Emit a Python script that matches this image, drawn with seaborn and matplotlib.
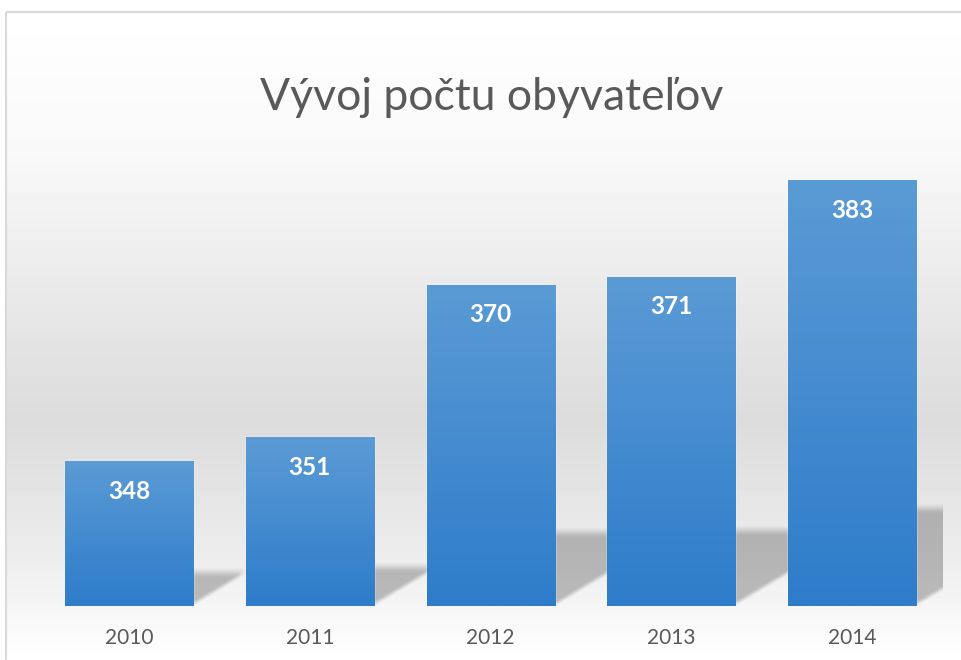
import matplotlib.pyplot as plt
import numpy as np
import pandas as pd
import seaborn as sns
from matplotlib.colors import LinearSegmentedColormap
from matplotlib.patches import Rectangle

# Data
years = ['2010', '2011', '2012', '2013', '2014']
population = [348, 351, 370, 371, 383]
chart_title = 'Vývoj počtu obyvateľov'

# Settings
Y_MIN, Y_MAX = 330, 390
TEXT_GREY = '#595959'
BAR_TOP = '#5b9bd5'
BAR_BOTTOM = '#2e7cca'
W, H = 962, 660
AX_RECT = [38.6 / W, 54 / H, 904 / W, 482 / H]

df = pd.DataFrame({'Year': years, 'Population': population})

sns.set_theme(style='white')
plt.rcParams['font.family'] = ['Lato', 'DejaVu Sans']

fig = plt.figure(figsize=(W / 100, H / 100), dpi=100)

# Background: white frame with a soft grey band in the middle
bg = fig.add_axes([0, 0, 1, 1], zorder=-10)
bg.set_axis_off()
rows = np.arange(H)
shade = np.interp(rows, [0, 12, 150, 420, 560, 660], [1.0, 1.0, 0.975, 0.86, 0.93, 1.0])
img = np.repeat(shade[:, None], W, axis=1)
img[:12, :] = 1.0
img[:, :6] = 1.0
bg.imshow(img, cmap='gray', vmin=0, vmax=1, aspect='auto', extent=[0, W, H, 0])
bg.add_patch(Rectangle((6, 12), W, H, fill=False, ec='#d9d9d9', lw=1.5))
bg.set_xlim(0, W)
bg.set_ylim(H, 0)

# Main chart
ax = fig.add_axes(AX_RECT)
ax.set_facecolor('none')
sns.barplot(data=df, x='Year', y='Population', ax=ax, width=0.708, color=BAR_TOP, zorder=3)
bars = list(ax.patches)

# gradient fill on the bars
bar_cmap = LinearSegmentedColormap.from_list('bar', [BAR_BOTTOM, BAR_TOP])
grad = np.linspace(0, 1, 256)[:, None]
for bar in bars:
    x0, w, h = bar.get_x(), bar.get_width(), bar.get_height()
    im = ax.imshow(grad, cmap=bar_cmap, extent=[x0, x0 + w, Y_MIN, h],
                   origin='lower', aspect='auto', zorder=4)
    im.set_clip_path(bar)

# soft perspective shadow to the right of each bar (worked out in pixels)
px_x = AX_RECT[2] * W / len(years)       # pixels per category
px_y = AX_RECT[3] * H / (Y_MAX - Y_MIN)  # pixels per unit


def soft(z, blur):
    s = np.clip(z / blur + 0.5, 0, 1)
    return s * s * (3 - 2 * s)


for bar in bars:
    x1 = bar.get_x() + bar.get_width()
    bar_px = (bar.get_height() - Y_MIN) * px_y
    top_px = 0.23 * bar_px
    right_px = 0.35 * bar_px
    wx = (right_px + 15) / px_x
    wy = (top_px + 15) / px_y
    xs = np.linspace(x1, x1 + wx, 90)
    ys = np.linspace(Y_MIN, Y_MIN + wy, 120)
    X, Y = np.meshgrid(xs, ys)
    dx = (X - x1) * px_x
    dy = (Y - Y_MIN) * px_y
    alpha = (0.24 * soft(dy - 0.6 * dx - 2, 7) * soft(top_px - dy, 12)
             * soft(right_px - dx, 14))
    rgba = np.zeros(X.shape + (4,))
    rgba[..., 3] = alpha
    ax.imshow(rgba, extent=[x1, x1 + wx, Y_MIN, Y_MIN + wy], origin='lower',
              aspect='auto', zorder=2, interpolation='bilinear')

# value labels
for bar, val in zip(bars, population):
    ax.annotate(str(val), (bar.get_x() + bar.get_width() / 2, val),
                xytext=(0, -21.6), textcoords='offset points', ha='center', va='center',
                color='white', fontsize=17.5, fontweight='bold', zorder=6)

ax.set_xlim(-0.5, len(years) - 0.5)
ax.set_ylim(Y_MIN, Y_MAX)
ax.set_xlabel('')
ax.set_ylabel('')
ax.set_yticks([])
ax.tick_params(axis='x', length=0, pad=16, labelsize=15, labelcolor=TEXT_GREY)
sns.despine(ax=ax, left=True, bottom=True)

fig.text(0.511, 0.853, chart_title, ha='center', va='center',
         fontsize=32, color=TEXT_GREY, fontweight='normal')

fig.savefig('out.png', dpi=100)
